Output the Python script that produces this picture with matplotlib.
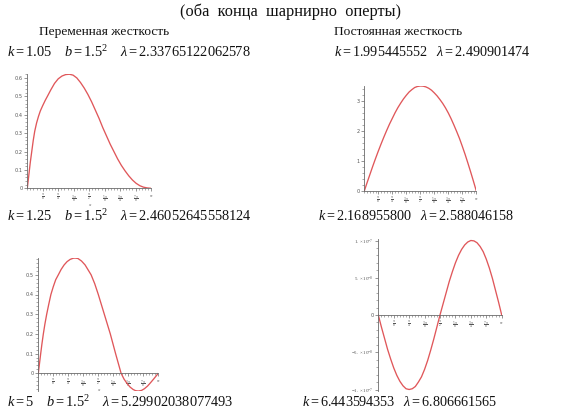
import numpy as np
import matplotlib
matplotlib.use("Agg")
import matplotlib.pyplot as plt
from matplotlib.ticker import FixedLocator, FixedFormatter, MultipleLocator

plt.rcParams["mathtext.fontset"] = "custom"
plt.rcParams["mathtext.rm"] = "Liberation Serif"
plt.rcParams["mathtext.it"] = "Liberation Serif:italic"
plt.rcParams["mathtext.bf"] = "Liberation Serif:bold"

# ---- sampled deflection shapes (x in units of pi) ----
x_var1 = [0, 0.012, 0.024, 0.036, 0.048, 0.06, 0.075, 0.09, 0.105, 0.125, 0.145, 0.165,
          0.19, 0.22, 0.25, 0.28, 0.31, 0.34, 0.37, 0.40, 0.43, 0.46, 0.49, 0.52, 0.55,
          0.58, 0.61, 0.64, 0.67, 0.70, 0.73, 0.76, 0.79, 0.82, 0.85, 0.88, 0.91, 0.94,
          0.97, 1.0]
y_var1 = [0, 0.07, 0.14, 0.20, 0.26, 0.31, 0.355, 0.39, 0.42, 0.45, 0.478, 0.503,
          0.535, 0.57, 0.595, 0.61, 0.618, 0.62, 0.615, 0.60, 0.575, 0.545, 0.51, 0.47, 0.425,
          0.38, 0.33, 0.285, 0.24, 0.20, 0.16, 0.125, 0.095, 0.068, 0.045, 0.027, 0.014, 0.006,
          0.002, 0.0]

x_var2 = [0, 0.01, 0.02, 0.03, 0.042, 0.055, 0.07, 0.087, 0.105, 0.125, 0.145, 0.167,
          0.19, 0.215, 0.24, 0.265, 0.29, 0.306, 0.33, 0.36, 0.39, 0.415, 0.44, 0.47,
          0.50, 0.525, 0.55, 0.575, 0.60, 0.622, 0.644, 0.667, 0.69, 0.715, 0.74, 0.765,
          0.79, 0.81, 0.833, 0.86, 0.885, 0.91, 0.935, 0.96, 0.98, 1.0]
y_var2 = [0, 0.05, 0.10, 0.148, 0.20, 0.25, 0.30, 0.35, 0.40, 0.44, 0.475, 0.50,
          0.527, 0.55, 0.567, 0.578, 0.584, 0.585, 0.583, 0.57, 0.55, 0.525, 0.50, 0.455,
          0.40, 0.35, 0.30, 0.25, 0.20, 0.15, 0.10, 0.05, 0.0, -0.03, -0.052, -0.07,
          -0.082, -0.088, -0.09, -0.087, -0.078, -0.065, -0.048, -0.03, -0.015, 0.0]

x_const = [0, 0.025, 0.05, 0.075, 0.10, 0.125, 0.15, 0.175, 0.20, 0.225, 0.25, 0.275,
           0.30, 0.325, 0.35, 0.375, 0.40, 0.425, 0.45, 0.475, 0.50, 0.525, 0.55, 0.575,
           0.60, 0.625, 0.65, 0.675, 0.70, 0.725, 0.75, 0.775, 0.80, 0.825, 0.85, 0.875,
           0.90, 0.925, 0.95, 0.975, 1.0]
y_const1 = [0, 0.28, 0.55, 0.82, 1.08, 1.33, 1.57, 1.80, 2.02, 2.23, 2.42, 2.61,
            2.78, 2.93, 3.07, 3.19, 3.30, 3.38, 3.45, 3.485, 3.50, 3.495, 3.47, 3.425,
            3.36, 3.27, 3.17, 3.05, 2.92, 2.77, 2.60, 2.41, 2.20, 1.98, 1.75, 1.49,
            1.22, 0.93, 0.63, 0.32, 0.0]
y_const2 = [0, -0.16, -0.31, -0.46, -0.59, -0.71, -0.81, -0.89, -0.95, -0.99, -1.00, -0.99,
            -0.96, -0.90, -0.83, -0.73, -0.61, -0.47, -0.32, -0.16, 0.0, 0.15, 0.30, 0.45,
            0.58, 0.70, 0.80, 0.88, 0.94, 0.98, 1.00, 0.995, 0.97, 0.92, 0.85, 0.75,
            0.63, 0.49, 0.33, 0.17, 0.0]
const2_scale = 1e-7

x_tick_labels = [r"$\frac{\pi}{8}$", r"$\frac{\pi}{4}$", r"$\frac{3\,\pi}{8}$", r"$\frac{\pi}{2}$",
                 r"$\frac{5\,\pi}{8}$", r"$\frac{3\,\pi}{4}$", r"$\frac{7\,\pi}{8}$", r"$\pi$"]

W, H = 581, 417
fig = plt.figure(figsize=(W / 100, H / 100), dpi=100)
fig.patch.set_facecolor("white")

CURVE = "#e0575a"
AX = "#6a6a6a"
serif = "Liberation Serif"


def maple_axes(x0, xpi, zero_y, ppu, ylim, yticks, ylabels, yminor, xlabel=False, xlab_off=11):
    bottom_px = zero_y - ylim[0] * ppu
    top_px = zero_y - ylim[1] * ppu
    ax = fig.add_axes([x0 / W, 1 - bottom_px / H, (xpi - x0) / W, (bottom_px - top_px) / H])
    ax.set_xlim(0, np.pi)
    ax.set_ylim(*ylim)
    ax.patch.set_alpha(0)
    for s in ("top", "right"):
        ax.spines[s].set_visible(False)
    ax.spines["bottom"].set_position(("data", 0))
    for s in ("left", "bottom"):
        ax.spines[s].set_color(AX)
        ax.spines[s].set_linewidth(0.6)
    ax.xaxis.set_major_locator(FixedLocator([k * np.pi / 8 for k in range(1, 9)]))
    ax.xaxis.set_major_formatter(FixedFormatter(x_tick_labels))
    ax.xaxis.set_minor_locator(MultipleLocator(np.pi / 40))
    ax.yaxis.set_major_locator(FixedLocator(yticks))
    ax.yaxis.set_major_formatter(FixedFormatter(ylabels))
    ax.yaxis.set_minor_locator(MultipleLocator(yminor))
    ax.tick_params(which="major", length=2.2, width=0.5, color=AX, labelsize=3.6,
                   labelcolor="#555555", pad=1.2)
    ax.tick_params(which="minor", length=1.2, width=0.4, color=AX)
    if xlabel:
        ax.annotate("x", (np.pi / 2, 0), xytext=(0, -xlab_off), textcoords="offset pixels",
                    ha="center", va="center", fontsize=3.8, color="#555555",
                    fontfamily=serif, style="italic")
    return ax


# top left: variable stiffness, k = 1.05
ax1 = maple_axes(27.3, 151.0, 188.3, 184.0, (0, 0.62),
                 [0, 0.1, 0.2, 0.3, 0.4, 0.5, 0.6], ["0", "0.1", "0.2", "0.3", "0.4", "0.5", "0.6"],
                 0.02, xlabel=True, xlab_off=17)
ax1.plot(np.array(x_var1) * np.pi, y_var1, color=CURVE, lw=0.95)

# bottom left: variable stiffness, k = 1.25
ax2 = maple_axes(38.3, 158.3, 373.3, 197.0, (-0.09, 0.585),
                 [0, 0.1, 0.2, 0.3, 0.4, 0.5], ["0", "0.1", "0.2", "0.3", "0.4", "0.5"],
                 0.02, xlabel=True, xlab_off=17)
ax2.plot(np.array(x_var2) * np.pi, y_var2, color=CURVE, lw=0.95)

# top right: constant stiffness, first mode
ax3 = maple_axes(364.3, 476.3, 191.0, 30.0, (0, 3.5),
                 [0, 1, 2, 3], ["0", "1", "2", "3"], 0.2)
ax3.plot(np.array(x_const) * np.pi, y_const1, color=CURVE, lw=0.95)

# bottom right: constant stiffness, second mode
ax4 = maple_axes(378.3, 501.7, 315.0, 74.5 / const2_scale, (-1.02e-7, 1.02e-7),
                 [-1e-7, -5e-8, 0, 5e-8, 1e-7],
                 [r"$-1.\times10^{-7}$", r"$-5.\times10^{-8}$", "0",
                  r"$5.\times10^{-8}$", r"$1.\times10^{-7}$"], 1e-8)
ax4.plot(np.array(x_const) * np.pi, np.array(y_const2) * const2_scale, color=CURVE, lw=0.95)


def ftext(x, y, s, size, ha="left"):
    fig.text(x / W, 1 - y / H, s, fontsize=size, ha=ha, va="center",
             fontfamily=serif, color="#111111")


ftext(290, 12, "(оба  конца  шарнирно  оперты)", 11.8, ha="center")
ftext(39, 32, "Переменная жесткость", 9.6)
ftext(334, 32, "Постоянная жесткость", 9.6)

ftext(7, 52, r"$k=1.05\quad\; b=1.5^2\quad\; \lambda=2.33765122062578$", 10.4)
ftext(334, 52, r"$k=1.995445552\quad \lambda=2.490901474$", 10.2)
ftext(7, 216, r"$k=1.25\quad\; b=1.5^2\quad\; \lambda=2.46052645558124$", 10.4)
ftext(318, 216, r"$k=2.168955800\quad \lambda=2.588046158$", 10.2)
ftext(7, 402, r"$k=5\quad\; b=1.5^2\quad\; \lambda=5.29902038077493$", 10.4)
ftext(302, 402, r"$k=6.443594353\quad \lambda=6.806661565$", 10.2)

fig.savefig("out.png", dpi=100, facecolor="white")
